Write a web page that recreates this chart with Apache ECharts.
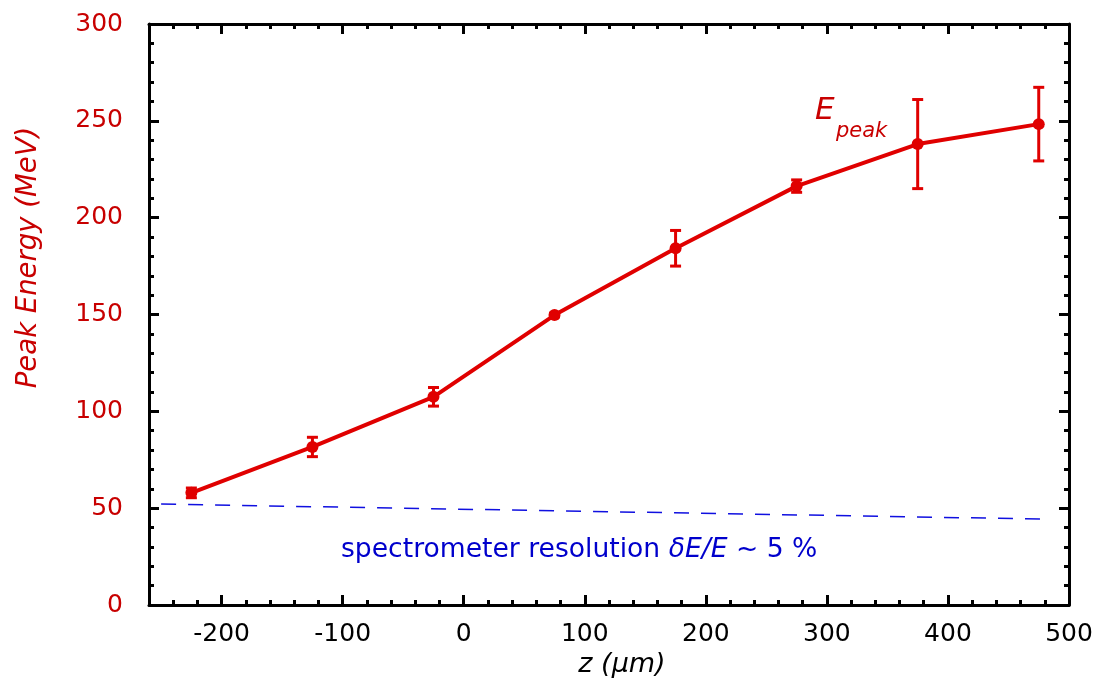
<!DOCTYPE html>
<html>
<head>
<meta charset="utf-8">
<script src="https://cdn.jsdelivr.net/npm/echarts@6/dist/echarts.min.js"></script>
<style>
  html, body { margin: 0; padding: 0; background: #fff; }
  #main { width: 1098px; height: 691px; }
</style>
</head>
<body>
<div id="main"></div>
<script>
// z position (um) and measured peak energy (MeV)
var zPos = [-225, -125, -25, 75, 175, 275, 375, 475];
var peakEnergy = [57.9, 81.6, 107.5, 149.7, 184.2, 216.3, 238.0, 248.3];
var peakError = [2.5, 5, 4.8, 1, 9.2, 3.2, 23, 19];

// spectrometer resolution guide line
var resolutionZ = [-250, 485];
var resolutionE = [52.1, 44.3];

var xRange = [-260, 500];
var yRange = [0, 300];

var RED = "#e00000";
var RED_TEXT = "#c80000";
var BLUE = "#0000cc";
var FONT = "DejaVu Sans";

document.addEventListener("DOMContentLoaded", function () {
  var chart = echarts.init(document.getElementById("main"), null, { renderer: "canvas" });

  var peakData = zPos.map(function (z, i) { return [z, peakEnergy[i]]; });
  var errData = zPos.map(function (z, i) { return [z, peakEnergy[i], peakError[i]]; });
  var resData = resolutionZ.map(function (z, i) { return [z, resolutionE[i]]; });

  var frameLine = { show: true, onZero: false, lineStyle: { color: "#000", width: 3 } };
  var majorTick = { show: true, inside: true, length: 10, lineStyle: { color: "#000", width: 3 } };
  var minorTick = { show: true, splitNumber: 5, length: 5, lineStyle: { color: "#000", width: 3 } };

  var option = {
    animation: false,
    backgroundColor: "#fff",
    grid: { left: 149, right: 29, top: 24, bottom: 86 },
    xAxis: [
      {
        type: "value",
        position: "bottom",
        min: xRange[0],
        max: xRange[1],
        splitNumber: 8,
        axisLine: frameLine,
        axisTick: majorTick,
        minorTick: minorTick,
        splitLine: { show: false },
        axisLabel: {
          showMinLabel: false,
          color: "#000",
          fontFamily: FONT,
          fontSize: 25,
          margin: 17,
        },
        name: "z (μm)",
        nameLocation: "middle",
        nameGap: 46,
        nameTextStyle: {
          color: "#000", fontFamily: FONT, fontSize: 27, fontStyle: "italic",
          padding: [0, 0, 0, 26],
        },
      },
      {
        type: "value",
        position: "top",
        min: xRange[0],
        max: xRange[1],
        splitNumber: 8,
        axisLine: frameLine,
        axisTick: majorTick,
        minorTick: minorTick,
        splitLine: { show: false },
        axisLabel: { show: false },
      },
    ],
    yAxis: [
      {
        type: "value",
        position: "left",
        min: yRange[0],
        max: yRange[1],
        interval: 50,
        axisLine: frameLine,
        axisTick: majorTick,
        minorTick: minorTick,
        splitLine: { show: false },
        axisLabel: { color: RED_TEXT, fontFamily: FONT, fontSize: 25, margin: 26 },
        name: "Peak Energy (MeV)",
        nameLocation: "middle",
        nameGap: 107,
        nameTextStyle: {
          color: RED_TEXT, fontFamily: FONT, fontSize: 27.5, fontStyle: "italic",
          padding: [0, 0, 0, 114],
        },
      },
      {
        type: "value",
        position: "right",
        min: yRange[0],
        max: yRange[1],
        interval: 50,
        axisLine: frameLine,
        axisTick: majorTick,
        minorTick: minorTick,
        splitLine: { show: false },
        axisLabel: { show: false },
      },
    ],
    series: [
      {
        name: "resolution",
        type: "line",
        data: resData,
        symbol: "none",
        lineStyle: { color: "#1010e0", width: 1.5, type: [15, 12] },
        z: 1,
      },
      {
        name: "Epeak",
        type: "line",
        data: peakData,
        symbol: "circle",
        symbolSize: 12,
        itemStyle: { color: RED },
        lineStyle: { color: RED, width: 4 },
        z: 3,
      },
      {
        name: "error",
        type: "custom",
        data: errData,
        z: 4,
        renderItem: function (params, api) {
          var x = api.value(0);
          var y = api.value(1);
          var e = api.value(2);
          var top = api.coord([x, y + e]);
          var bot = api.coord([x, y - e]);
          var hw = 5.5;
          var style = { stroke: RED, lineWidth: 3, fill: null };
          return {
            type: "group",
            children: [
              { type: "line", shape: { x1: top[0], y1: top[1], x2: bot[0], y2: bot[1] }, style: style },
              { type: "line", shape: { x1: top[0] - hw, y1: top[1], x2: top[0] + hw, y2: top[1] }, style: style },
              { type: "line", shape: { x1: bot[0] - hw, y1: bot[1], x2: bot[0] + hw, y2: bot[1] }, style: style },
            ],
          };
        },
      },
    ],
    graphic: [
      {
        type: "text",
        left: 815,
        top: 95,
        style: { text: "E", fill: RED_TEXT, font: "italic 31px 'DejaVu Sans'" },
      },
      {
        type: "text",
        left: 836,
        top: 121,
        style: { text: "peak", fill: RED_TEXT, font: "italic 21px 'DejaVu Sans'" },
      },
      {
        type: "text",
        left: 341,
        top: 537,
        style: {
          text: "{n|spectrometer resolution }{i|δE/E}{n| ~ 5 %}",
          rich: {
            n: { fill: BLUE, fontFamily: FONT, fontSize: 26.6 },
            i: { fill: BLUE, fontFamily: FONT, fontSize: 26.6, fontStyle: "italic" },
          },
        },
      },
    ],
  };

  chart.setOption(option);
});
</script>
</body>
</html>
